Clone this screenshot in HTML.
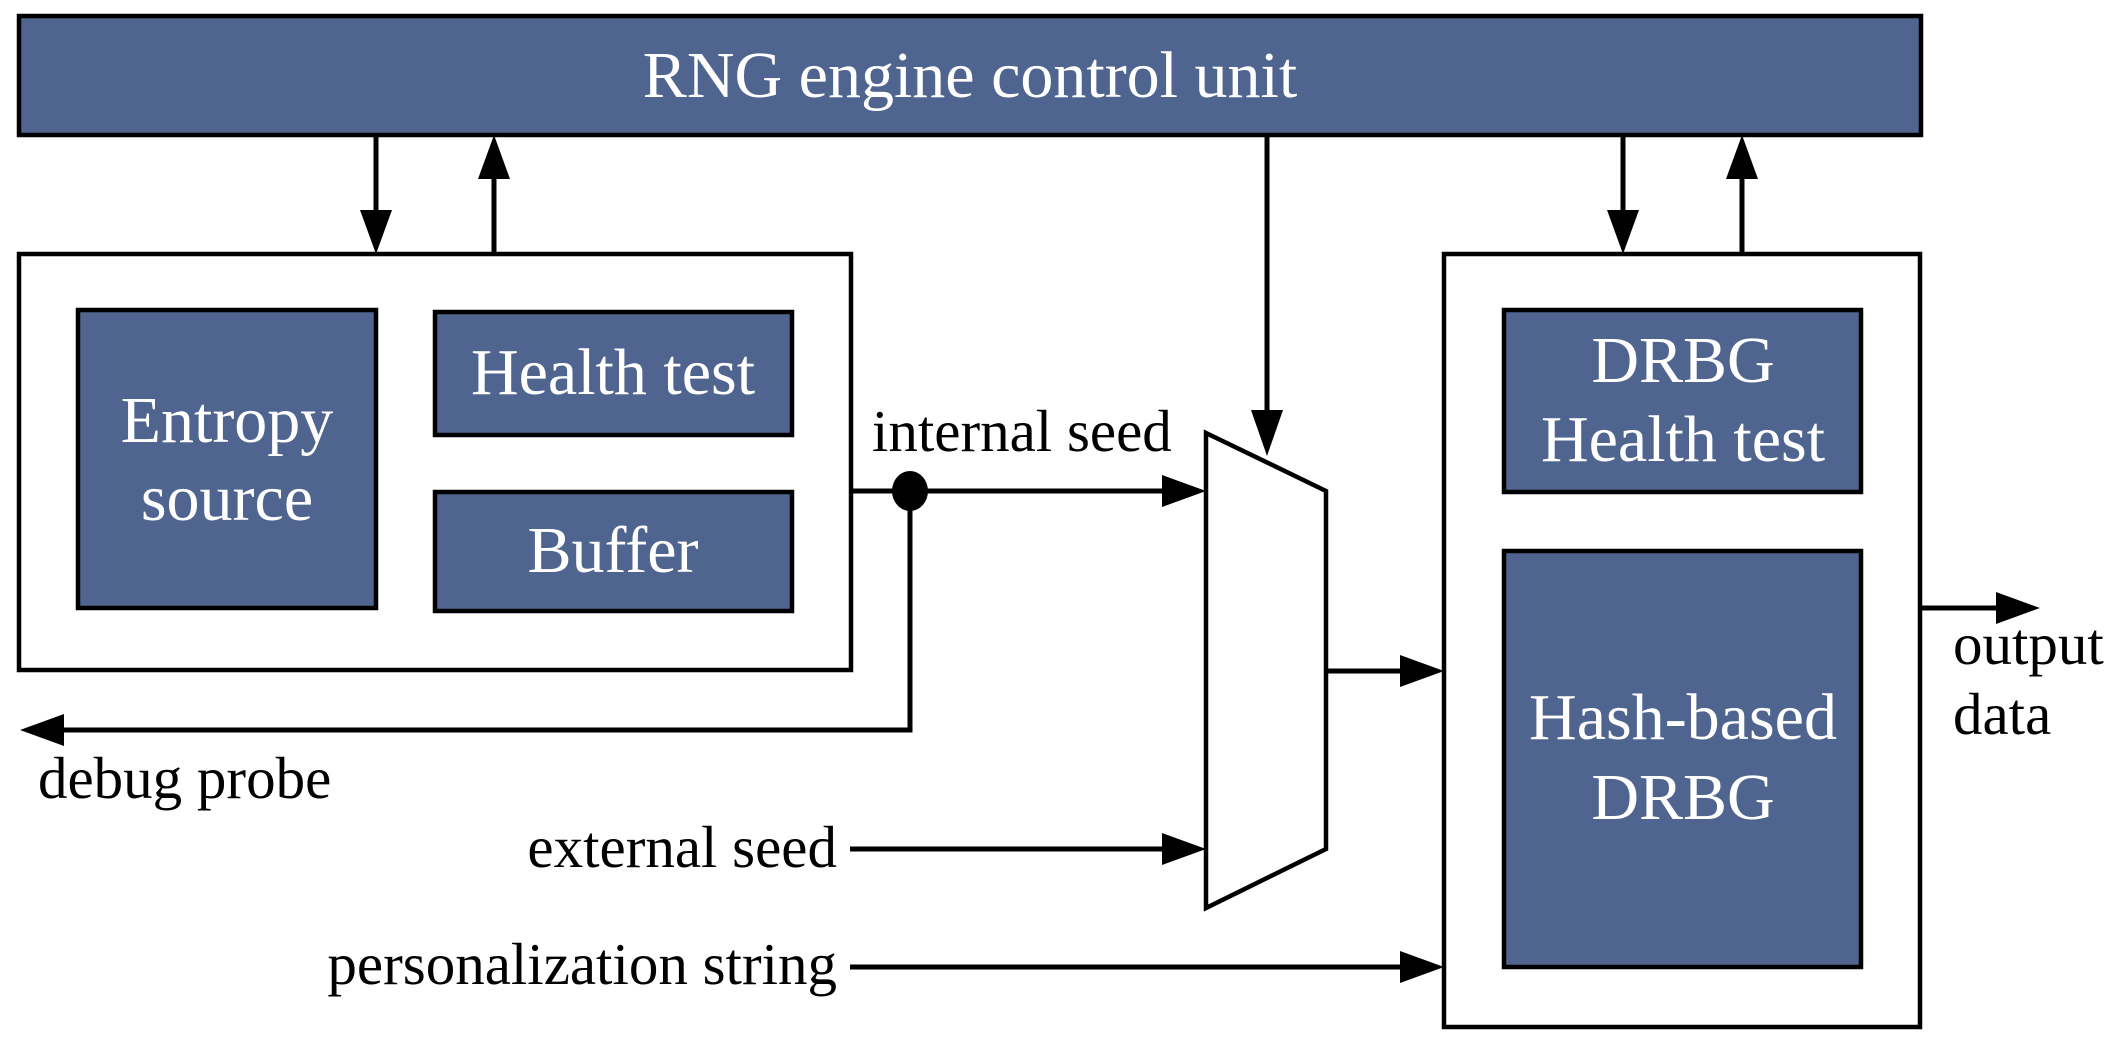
<!DOCTYPE html>
<html><head><meta charset="utf-8"><style>
html,body{margin:0;padding:0;background:#fff;}
svg{display:block;}
text{font-family:"Liberation Serif",serif;}
</style></head><body>
<svg width="2109" height="1041" viewBox="0 0 2109 1041" xmlns="http://www.w3.org/2000/svg">
<g stroke="#000" stroke-width="4.5" fill="#4f6590">
<rect x="19" y="16" width="1902" height="119"/>
<rect x="19" y="254" width="832" height="416" fill="#fff"/>
<rect x="78" y="310" width="298" height="298"/>
<rect x="435" y="312" width="357" height="123"/>
<rect x="435" y="492" width="357" height="119"/>
<rect x="1444" y="254" width="476" height="773" fill="#fff"/>
<rect x="1504" y="310" width="357" height="182"/>
<rect x="1504" y="551" width="357" height="416"/>
<polygon points="1206,433 1326,491 1326,849 1206,908" fill="#fff"/>
</g>
<g stroke="#000" stroke-width="5" fill="none">
<line x1="376" y1="135" x2="376" y2="215"/>
<line x1="494" y1="254" x2="494" y2="170"/>
<line x1="851" y1="491" x2="1165" y2="491"/>
<polyline points="910,491 910,730 55,730"/>
<line x1="1267" y1="135" x2="1267" y2="415"/>
<line x1="850" y1="849" x2="1165" y2="849"/>
<line x1="1326" y1="671" x2="1403" y2="671"/>
<line x1="850" y1="967" x2="1403" y2="967"/>
<line x1="1623" y1="135" x2="1623" y2="215"/>
<line x1="1742" y1="254" x2="1742" y2="170"/>
<line x1="1920" y1="608" x2="2000" y2="608"/>
</g>
<g fill="#000">
<polygon points="360,210 392,210 376,254"/>
<polygon points="478,179 510,179 494,135"/>
<polygon points="1162,475 1162,507 1206,491"/>
<polygon points="1251,410 1283,410 1267,456"/>
<polygon points="1162,833 1162,865 1206,849"/>
<polygon points="1400,655 1400,687 1444,671"/>
<polygon points="1400,951 1400,983 1444,967"/>
<polygon points="1607,210 1639,210 1623,254"/>
<polygon points="1726,179 1758,179 1742,135"/>
<polygon points="1996,592 1996,624 2040,608"/>
<polygon points="64,714 64,746 20,730"/>
<ellipse cx="910" cy="491" rx="18" ry="20"/>
</g>
<g fill="#fff" font-size="66" text-anchor="middle">
<text x="970" y="97">RNG engine control unit</text>
<text x="227" y="442">Entropy</text>
<text x="227" y="520">source</text>
<text x="613" y="394">Health test</text>
<text x="613" y="572">Buffer</text>
<text x="1683" y="382">DRBG</text>
<text x="1683" y="461">Health test</text>
<text x="1683" y="739">Hash-based</text>
<text x="1683" y="819">DRBG</text>
</g>
<g fill="#000" font-size="59">
<text x="872" y="451">internal seed</text>
<text x="38" y="798">debug probe</text>
<text x="837" y="867" text-anchor="end">external seed</text>
<text x="837" y="984" text-anchor="end">personalization string</text>
<text x="1953" y="664">output</text>
<text x="1953" y="734">data</text>
</g>
</svg>
</body></html>
